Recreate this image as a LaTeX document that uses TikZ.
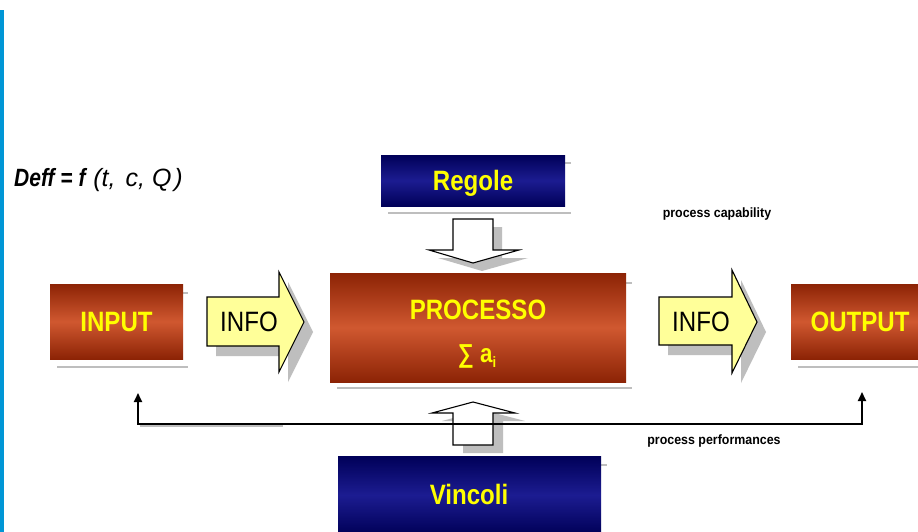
\documentclass[tikz,border=0pt]{standalone}
\usepackage{fontspec}
\setmainfont{Liberation Sans}
\newfontfamily\boxfont[FakeStretch=0.86]{Liberation Sans}
\newfontfamily\smallfont[FakeStretch=0.92]{Liberation Sans}
\newfontfamily\formulafont[FakeStretch=0.84]{Liberation Sans}
\usetikzlibrary{arrows.meta}
\definecolor{darkred}{RGB}{140,35,5}
\definecolor{midred}{RGB}{208,88,48}
\definecolor{darknavy}{RGB}{0,0,88}
\definecolor{midnavy}{RGB}{28,28,145}
\definecolor{boxyellow}{RGB}{255,255,0}
\definecolor{infofill}{RGB}{255,255,153}
\definecolor{shadowgray}{RGB}{190,190,190}
\definecolor{barblue}{RGB}{0,150,214}
\tikzset{
  boxlabel/.style={inner sep=0pt, text=boxyellow, text height=20pt, text depth=0pt,
    font=\boxfont\bfseries\fontsize{28}{30}\selectfont},
  redbox/.style={rectangle, inner sep=0pt, top color=darkred, bottom color=darkred, middle color=midred},
  navybox/.style={rectangle, inner sep=0pt, top color=darknavy, bottom color=darknavy, middle color=midnavy},
  infotext/.style={inner sep=0pt, text height=20pt, text depth=0pt, font=\boxfont\fontsize{28}{30}\selectfont},
  smalllabel/.style={inner sep=0pt, font=\smallfont\bfseries\fontsize{13.5}{15}\selectfont},
  underline/.style={draw=shadowgray, line width=2.6pt},
  blockshadow/.style={fill=shadowgray, draw=none},
  blockarrow/.style={draw=black, line width=1.1pt, line join=miter},
  feedback/.style={draw=black, line width=1.8pt, -{Triangle[length=9pt,width=8pt]}}
}
\begin{document}
\begin{tikzpicture}[x=1pt,y=-1pt]
\useasboundingbox (0,0) rectangle (918,532);
\clip (0,0) rectangle (918,532);
\fill[white] (0,0) rectangle (918,532);
% left blue bar
\fill[barblue] (0,10) rectangle (4,532);
% formula
\node[anchor=base west, inner sep=0pt, font=\formulafont\fontsize{25}{27}\selectfont] (formula) at (14,186)
  {\textbf{\textit{Deff = f}}\hspace{6pt}{\rmfamily\itshape (t,\hspace{10pt}c,\hspace{7pt}Q\hspace{3pt})}};
% shadow underlines
\draw[underline] (57,367) -- (188,367);
\draw[underline] (183,293) -- (188,293);
\draw[underline] (337,388) -- (632,388);
\draw[underline] (626,283) -- (632,283);
\draw[underline] (798,367) -- (918,367);
\draw[underline] (388,213) -- (571,213);
\draw[underline] (565,163) -- (571,163);
\draw[underline] (601,465) -- (607,465);
% boxes
\node[redbox, minimum width=133pt, minimum height=75pt] (input) at (116.5,321.5) {};
\node[boxlabel] (inputtext) at (input.center) {INPUT};
\node[redbox, minimum width=296pt, minimum height=109pt] (processo) at (478,327.5) {};
\node[boxlabel] (ptitle) at (478,309.5) {PROCESSO};
\node[text=boxyellow, font=\boxfont\bfseries\fontsize{26}{28}\selectfont, inner sep=0pt, anchor=base] (psum) at (477,362) {∑ a\raisebox{-5pt}{\fontsize{15}{16}\selectfont i}};
\node[redbox, minimum width=139pt, minimum height=75pt] (output) at (860.5,321.5) {};
\node[boxlabel] (outputtext) at (860,321.5) {OUTPUT};
\node[navybox, minimum width=184pt, minimum height=51pt] (regole) at (473,180.5) {};
\node[boxlabel] (regoletext) at (regole.center) {Regole};
\node[navybox, minimum width=263pt, minimum height=78pt] (vincoli) at (469.5,495) {};
\node[boxlabel] (vtext) at (469,494) {Vincoli};
% down arrow Regole -> Processo
\begin{scope}[shift={(9,8)}]
\fill[blockshadow] (453,219) -- (493,219) -- (493,250) -- (519,250) -- (473,263) -- (429,250) -- (453,250) -- cycle;
\end{scope}
\filldraw[fill=white, blockarrow] (453,219) -- (493,219) -- (493,250) -- (519,250) -- (473,263) -- (429,250) -- (453,250) -- cycle;
% up arrow Vincoli -> Processo
\begin{scope}[shift={(10,8)}]
\fill[blockshadow] (453,445) -- (493,445) -- (493,413) -- (515,413) -- (473,402) -- (432,413) -- (453,413) -- cycle;
\end{scope}
\filldraw[fill=white, blockarrow] (453,445) -- (493,445) -- (493,413) -- (515,413) -- (473,402) -- (432,413) -- (453,413) -- cycle;
% INFO arrows
\begin{scope}[shift={(9,10)}]
\fill[blockshadow] (207,297) -- (279,297) -- (279,272) -- (304,322) -- (279,372) -- (279,346) -- (207,346) -- cycle;
\fill[blockshadow] (659,297) -- (732,297) -- (732,270) -- (757,322) -- (732,373) -- (732,345) -- (659,345) -- cycle;
\end{scope}
\filldraw[fill=infofill, blockarrow] (207,297) -- (279,297) -- (279,272) -- (304,322) -- (279,372) -- (279,346) -- (207,346) -- cycle;
\filldraw[fill=infofill, blockarrow] (659,297) -- (732,297) -- (732,270) -- (757,322) -- (732,373) -- (732,345) -- (659,345) -- cycle;
\node[infotext] (info1) at (249,321) {INFO};
\node[infotext] (info2) at (701,321) {INFO};
% labels
\node[smalllabel] (cap) at (717,214) {process capability};
\node[smalllabel] (perf) at (714,441) {process performances};
% feedback line
\coordinate (fbL) at (138,393);
\coordinate (fbLc) at (138,424);
\coordinate (fbRc) at (862,424);
\coordinate (fbR) at (862,392);
\draw[draw=shadowgray, line width=2pt] (140,425.8) -- (283,425.8);
\draw[feedback] (fbRc) -- (fbLc) -- (fbL);
\draw[feedback] (fbLc) -- (fbRc) -- (fbR);
\end{tikzpicture}
\end{document}
